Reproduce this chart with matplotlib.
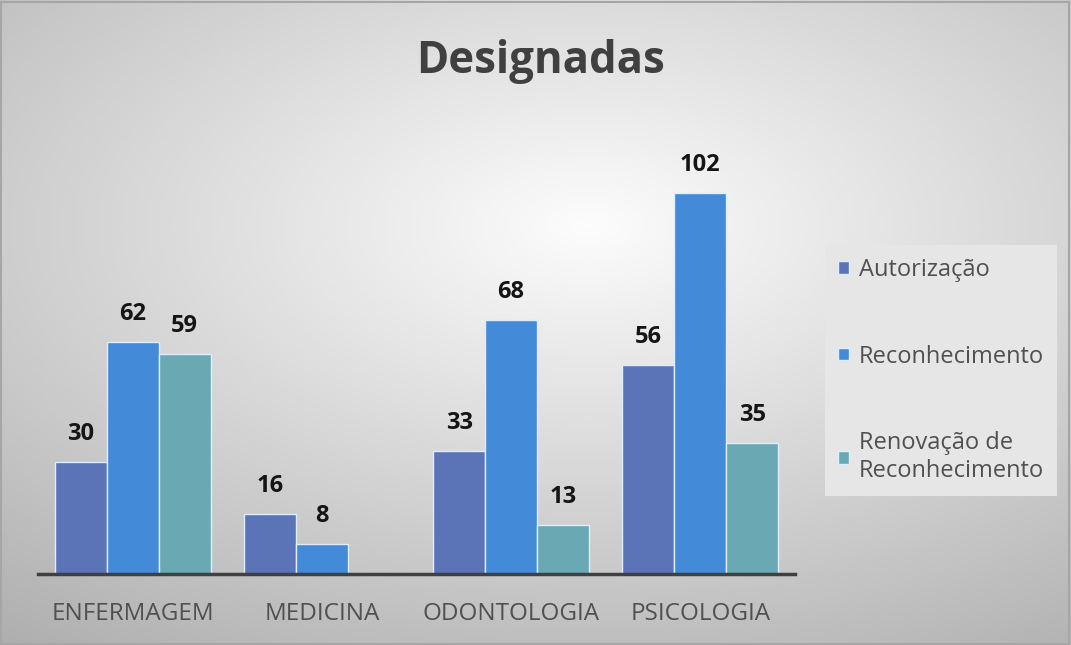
import matplotlib
matplotlib.use("Agg")
import matplotlib.pyplot as plt
import numpy as np
from matplotlib.patches import Rectangle

categories = ["ENFERMAGEM", "MEDICINA", "ODONTOLOGIA", "PSICOLOGIA"]
series_names = ["Autorização", "Reconhecimento", "Renovação de\nReconhecimento"]
autorizacao = [30, 16, 33, 56]
reconhecimento = [62, 8, 68, 102]
renovacao = [59, 0, 13, 35]
series_values = [autorizacao, reconhecimento, renovacao]
colors = ["#5B73B7", "#438AD8", "#6AA9B3"]

plt.rcParams['font.family'] = ['Open Sans', 'DejaVu Sans']

W, H = 1071, 645
fig = plt.figure(figsize=(W / 100, H / 100), dpi=100)

# background gradient
bg = fig.add_axes([0, 0, 1, 1])
yy, xx = np.mgrid[0:1:200j, 0:1:300j]
d = np.sqrt(((xx - 0.55) / 1.0) ** 2 + ((yy - 0.35) / 0.9) ** 2)
shade = np.clip(1.0 - 0.34 * d, 0, 1)
img = np.dstack([shade * 0.99, shade * 0.99, shade * 0.99])
bg.imshow(img, extent=[0, 1, 0, 1], aspect='auto', origin='upper')
bg.add_patch(Rectangle((0.001, 0.002), 0.997, 0.995, fill=False,
                       edgecolor='#a6a6a6', linewidth=1.5, transform=bg.transAxes))
bg.set_axis_off()

# plot area: x 38..795 px, baseline at y 574
top_px = 160
px_per_unit = (574 - 193) / 102
ax = fig.add_axes([38 / W, 1 - 574 / H, (795 - 38) / W, (574 - top_px) / H])
ax.patch.set_alpha(0)
ax.set_ylim(0, (574 - top_px) / px_per_unit)
ax.set_xlim(-0.5, len(categories) - 0.5)

x = np.arange(len(categories))
bw = 0.275
for i, (vals, col, name) in enumerate(zip(series_values, colors, series_names)):
    pos = x + (i - 1) * bw
    ax.bar(pos, vals, width=bw, color=col, edgecolor='#dceeff',
           linewidth=1.0, label=name)
    for p, v in zip(pos, vals):
        if v > 0:
            ax.text(p, v + 28 / px_per_unit, str(v), ha='center', va='center',
                    fontsize=17, fontweight='bold', color='#151515')

for s in ['top', 'right', 'left']:
    ax.spines[s].set_visible(False)
ax.spines['bottom'].set_color('#404040')
ax.spines['bottom'].set_linewidth(2.5)
ax.set_yticks([])
ax.set_xticks(x)
ax.set_xticklabels(categories, fontsize=17.5, color='#505050')
ax.tick_params(axis='x', length=0, pad=20)

fig.text(540 / W, 1 - 62 / H, "Designadas", ha='center', va='center',
         fontsize=31.5, fontweight='bold', color='#404040')

leg = fig.legend(loc='upper left', bbox_to_anchor=(825 / W, 1 - 245 / H),
                 frameon=True, fontsize=17, labelspacing=2.65,
                 handlelength=0.45, handleheight=0.45, handletextpad=0.45,
                 borderpad=0.55, borderaxespad=0, fancybox=False)
leg.get_frame().set_facecolor('#e6e6e6')
leg.get_frame().set_edgecolor('none')
leg.get_frame().set_alpha(1)
for t in leg.get_texts():
    t.set_color('#505050')

fig.savefig("out.png", dpi=100)
